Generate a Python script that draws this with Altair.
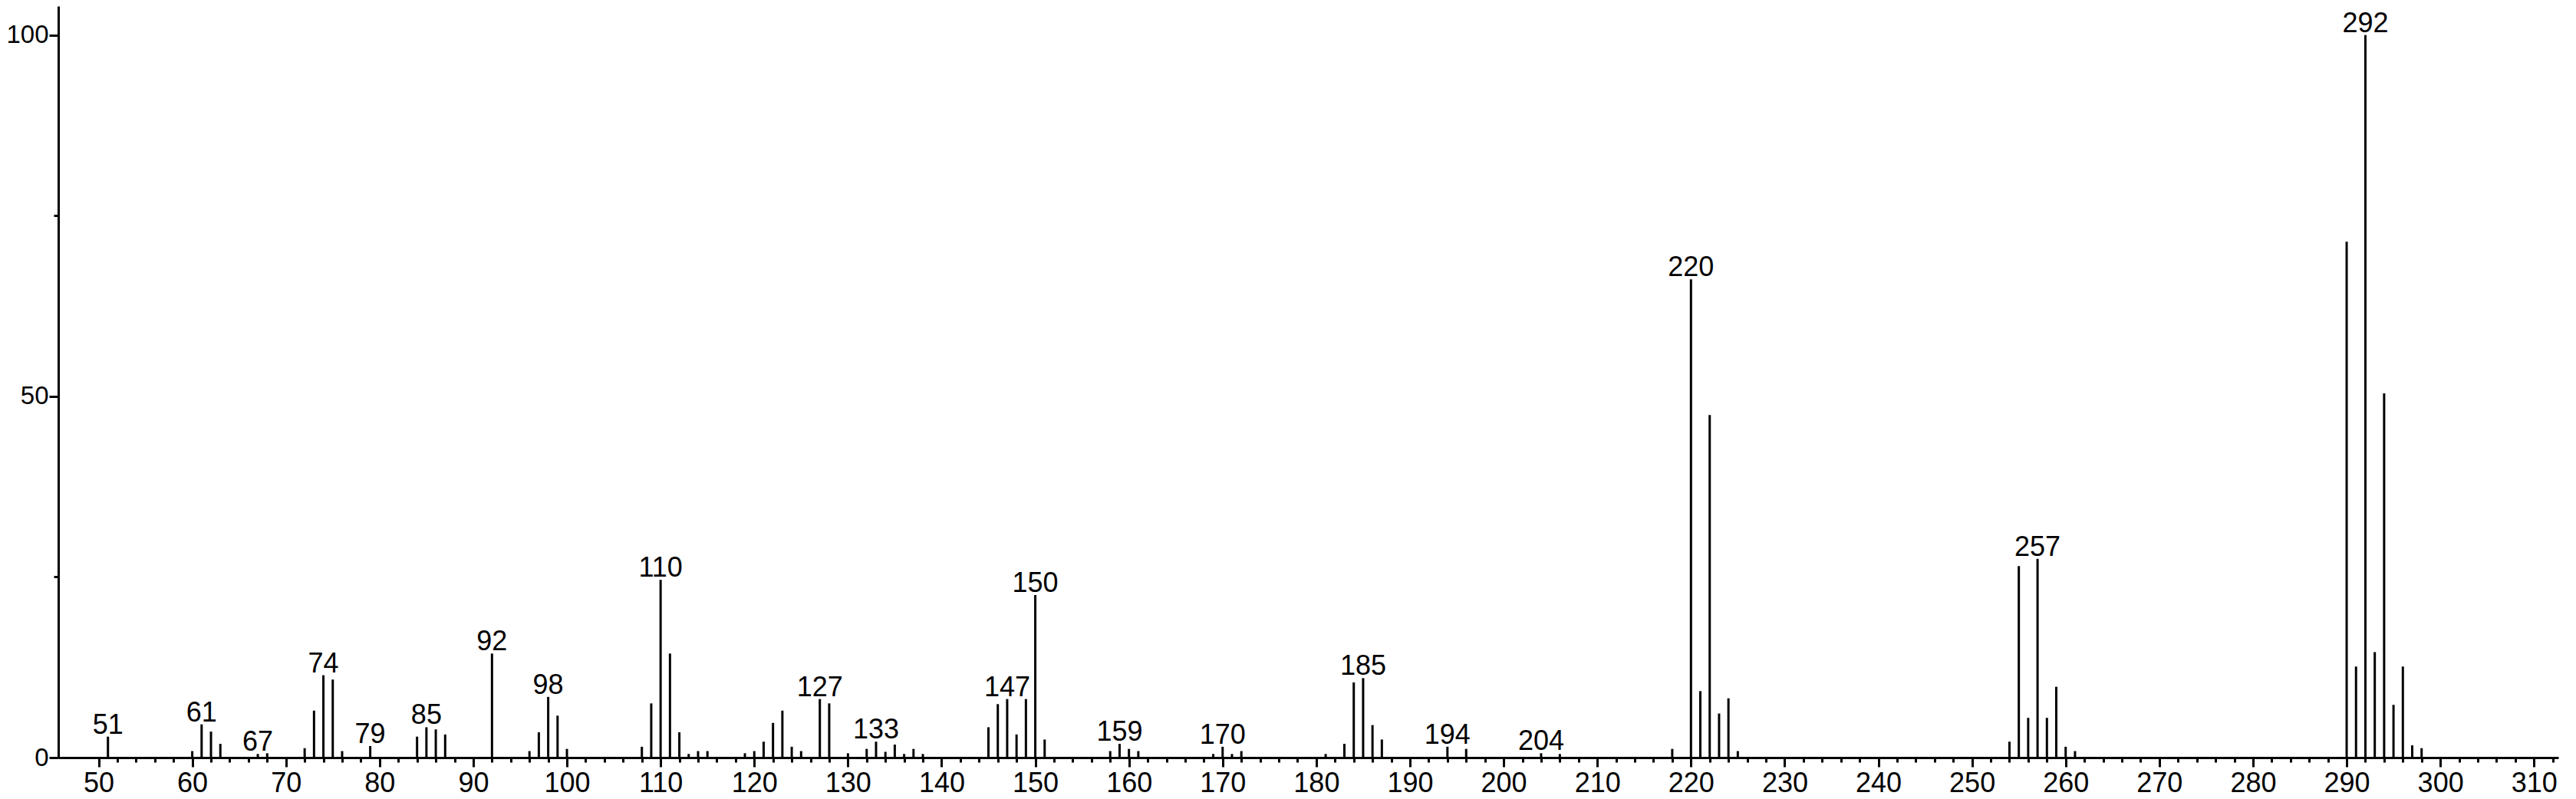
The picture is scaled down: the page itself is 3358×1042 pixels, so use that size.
import altair as alt
import pandas as pd

# ---- data ----
mz = [51, 60, 61, 62, 63, 67, 68, 72, 73, 74, 75, 76, 79, 84, 85, 86, 87,
      92, 96, 97, 98, 99, 100, 108, 109, 110, 111, 112, 113, 114, 115,
      119, 120, 121, 122, 123, 124, 125, 127, 128, 130, 132, 133, 134, 135,
      136, 137, 138, 145, 146, 147, 148, 149, 150, 151, 158, 159, 160, 161,
      169, 170, 171, 172, 181, 183, 184, 185, 186, 187, 194, 196, 204, 206,
      218, 220, 221, 222, 223, 224, 225, 254, 255, 256, 257, 258, 259, 260,
      261, 290, 291, 292, 293, 294, 295, 296, 297, 298]
intensity = [2.9, 0.9, 4.6, 3.6, 1.9, 0.5, 0.6, 1.3, 6.5, 11.4, 10.8, 0.9, 1.6,
             2.9, 4.2, 3.9, 3.2,
             14.4, 0.9, 3.5, 8.4, 5.8, 1.2, 1.5, 7.5, 24.6, 14.4, 3.5, 0.5, 0.9, 0.9,
             0.6, 0.9, 2.2, 4.8, 6.5, 1.5, 0.9, 8.1, 7.5, 0.6, 1.2, 2.2, 0.8, 1.8,
             0.5, 1.2, 0.5, 4.2, 7.4, 8.1, 3.2, 8.1, 22.5, 2.5, 0.9, 1.9, 1.2, 0.9,
             0.5, 1.5, 0.5, 0.9, 0.5, 1.9, 10.4, 11.0, 4.5, 2.5, 1.5, 1.2, 0.6, 0.5,
             1.2, 66.2, 9.2, 47.4, 6.1, 8.2, 0.9, 2.2, 26.5, 5.5, 27.5, 5.5, 9.8, 1.5,
             0.9, 71.4, 12.6, 100.0, 14.6, 50.4, 7.3, 12.6, 1.7, 1.3]
labelled_mz = [51, 61, 67, 74, 79, 85, 92, 98, 110, 127, 133, 147, 150, 159,
               170, 185, 194, 204, 220, 257, 292]

x_major = list(range(50, 311, 10))
x_minor = list(range(50, 313, 2))
y_major = [0, 50, 100]
y_minor = [25, 75]

df = pd.DataFrame({"mz": mz, "intensity": intensity})
df["label"] = [str(m) if m in labelled_mz else "" for m in mz]

FONT = "Liberation Sans, Arial, Helvetica, sans-serif"
FS = 36

xs = alt.Scale(domain=[45.7, 312.6], nice=False, zero=False)
ys = alt.Scale(domain=[0, 104.0], nice=False, zero=False)

axis_common = dict(title=None, grid=False, tickColor="black", tickWidth=3,
                   labelColor="black", labelFont=FONT,
                   domainColor="black", domainWidth=3)

stems = alt.Chart(df).mark_rule(color="black", strokeWidth=3).encode(
    x=alt.X("mz:Q", scale=xs,
            axis=alt.Axis(values=x_major, tickSize=12, labelPadding=4, orient="bottom",
                          labelFontSize=FS, labelFlush=False, labelOverlap=False,
                          format="d", **axis_common)),
    y=alt.Y("intensity:Q", scale=ys,
            axis=alt.Axis(values=y_major, tickSize=12, labelPadding=1, orient="left",
                          labelFontSize=33, format="d", **axis_common)),
    y2=alt.datum(0),
)

labels = alt.Chart(df).transform_filter("datum.label != ''").mark_text(
    baseline="alphabetic", align="center", dy=-4, font=FONT, fontSize=FS, color="black"
).encode(
    x=alt.X("mz:Q", scale=xs,
            axis=alt.Axis(values=x_minor, tickSize=6, labels=False, domain=False,
                          orient="bottom", title=None, grid=False,
                          tickColor="black", tickWidth=3)),
    y=alt.Y("intensity:Q", scale=ys,
            axis=alt.Axis(values=y_minor, tickSize=6, labels=False, domain=False,
                          orient="left", title=None, grid=False,
                          tickColor="black", tickWidth=3)),
    text="label:N",
)

chart = alt.layer(stems, labels).resolve_axis(x="independent", y="independent").properties(
    width=3259, height=980,
    autosize=alt.AutoSizeParams(type="none"),
    padding={"left": 68, "top": 0, "right": 10, "bottom": 54},
    background="white",
).configure_view(stroke=None)

chart.save("out.html", embed_options={"renderer": "svg", "actions": False})
